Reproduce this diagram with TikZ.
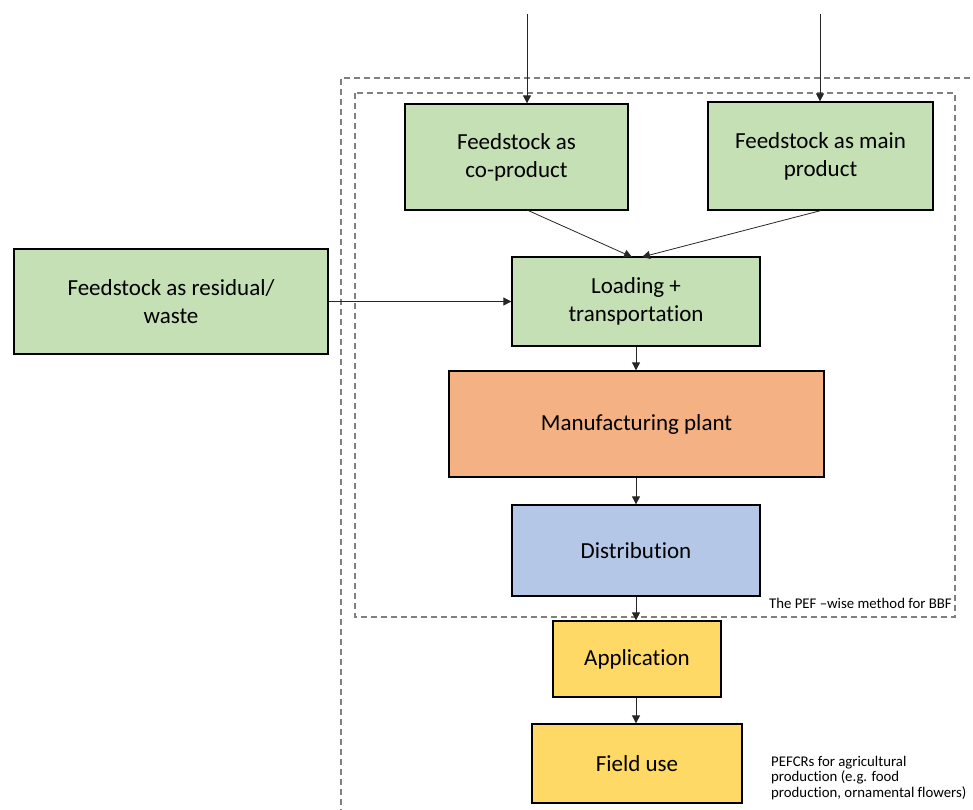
\documentclass[tikz,border=0pt]{standalone}
\usepackage{fontspec}
\setmainfont[Ligatures=NoCommon]{Carlito}
\usetikzlibrary{arrows.meta}
\definecolor{boxgreen}{HTML}{C5E0B4}
\definecolor{boxorange}{HTML}{F4B183}
\definecolor{boxblue}{HTML}{B4C7E7}
\definecolor{boxyellow}{HTML}{FFD966}
\newcommand{\bx}{\fontsize{23}{28}\selectfont}
\newcommand{\sm}{\fontsize{14.8}{15.5}\selectfont}

\begin{document}
\begin{tikzpicture}[x=1pt,y=-1pt,
   box/.style={draw=black,line width=1.3pt,inner sep=0pt,align=center,font=\bx},
   link/.style={draw=black!85,line width=0.8pt,-{Triangle[length=8pt,width=8pt]}},
   frame/.style={draw=black!50,line width=1.2pt,dash pattern=on 6pt off 4pt}]
   \clip (0,0) rectangle (973,809);
   % dashed frames
   \draw[frame] (990,78) -- (341,78) -- (341,830);
   \draw[frame] (355,93) rectangle (955,617);
   % boxes
   \node[box,fill=boxgreen,minimum width=223pt,minimum height=106pt] (coprod) at (516.5,157) {Feedstock as\\co-product};
   \node[box,fill=boxgreen,minimum width=225pt,minimum height=108pt] (mainprod) at (820.5,156) {Feedstock as main\\product};
   \node[box,fill=boxgreen,minimum width=314pt,minimum height=105pt] (residual) at (171,301.5) {Feedstock as residual/\\waste};
   \node[box,fill=boxgreen,minimum width=248pt,minimum height=89pt] (loading) at (636,301.5) {Loading +\\transportation};
   \node[box,fill=boxorange,minimum width=375pt,minimum height=106pt] (manuf) at (636.5,424) {Manufacturing plant};
   \node[box,fill=boxblue,minimum width=248pt,minimum height=91pt] (distrib) at (636,550.5) {Distribution};
   \node[box,fill=boxyellow,minimum width=168pt,minimum height=76pt] (applic) at (637,659) {Application};
   \node[box,fill=boxyellow,minimum width=210pt,minimum height=79pt] (field) at (637,763.5) {Field use};
   % labels
   \node[anchor=east,inner sep=0pt,font=\sm] (peflabel) at (952,603) {The PEF –wise method for BBF};
   \node[anchor=west,inner sep=0pt,align=left,font=\sm] (pefcrlabel) at (771,778) {PEFCRs for agricultural\\production (e.g. food\\production, ornamental flowers)};
   % connectors
   \coordinate (intop1) at (527,14);
   \coordinate (intop2) at (820,14);
   \draw[link] (intop1) -- (intop1 |- coprod.north);
   \draw[link] (intop2) -- (intop2 |- mainprod.north);
   \draw[link] (527,210) -- (632,257);
   \draw[link] (mainprod.south) -- (642,257);
   \draw[link] (residual.east) -- (loading.west);
   \draw[link] (loading.south) -- (manuf.north -| loading.south);
   \draw[link] (manuf.south -| loading.south) -- (distrib.north);
   \draw[link] (distrib.south) -- (distrib.south |- applic.north);
   \draw[link] (distrib.south |- applic.south) -- (distrib.south |- field.north);
\end{tikzpicture}
\end{document}
